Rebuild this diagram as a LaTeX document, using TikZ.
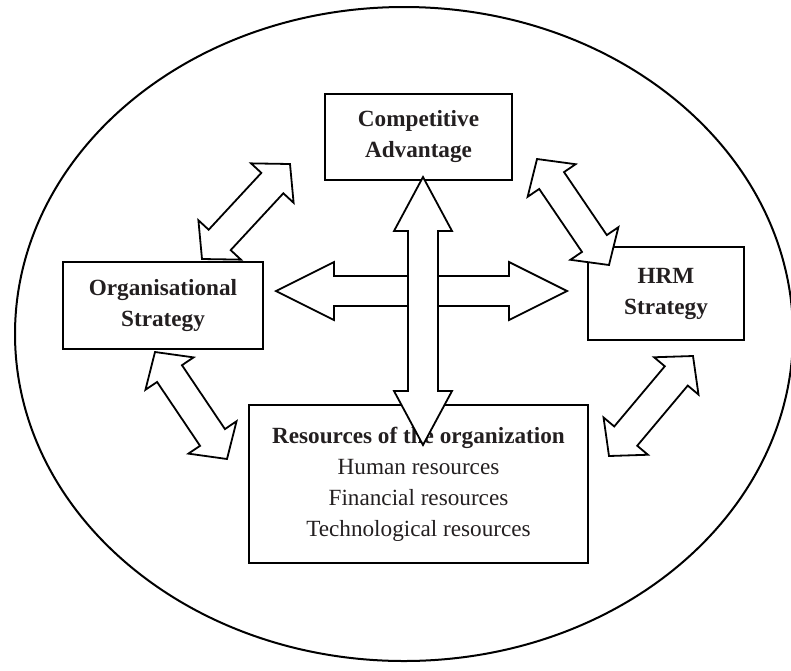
\documentclass[tikz,border=0pt]{standalone}
\usepackage{fontspec}
\setmainfont{Liberation Serif}
\usetikzlibrary{calc}
\definecolor{txtgray}{HTML}{231F20}
\tikzstyle{box} = [rectangle, draw=black, line width=1pt, inner sep=0pt, text centered, align=center, text=txtgray, font=\fontsize{11.6}{15.5}\selectfont]
\tikzstyle{blockarrow} = [draw=black, fill=white, line width=0.9pt, line join=miter]
% double block arrow between two points: start, end, head length
\newcommand{\fatarrow}[3]{%
  \draw[blockarrow] (#1)
    -- ($(#1)!#3!(#2)!14.5pt!90:(#2)$)
    -- ($(#1)!#3!(#2)!7.5pt!90:(#2)$)
    -- ($(#2)!#3!(#1)!7.5pt!-90:(#1)$)
    -- ($(#2)!#3!(#1)!14.5pt!-90:(#1)$)
    -- (#2)
    -- ($(#2)!#3!(#1)!14.5pt!90:(#1)$)
    -- ($(#2)!#3!(#1)!7.5pt!90:(#1)$)
    -- ($(#1)!#3!(#2)!7.5pt!-90:(#2)$)
    -- ($(#1)!#3!(#2)!14.5pt!-90:(#2)$)
    -- cycle;}
\begin{document}
\begin{tikzpicture}[x=0.5pt, y=-0.5pt]
\useasboundingbox (0,0) rectangle (791,670);
\clip (0,0) rectangle (791,670);

\draw[line width=1pt] (404,334) ellipse [x radius=389, y radius=327];

\node (adv) [box, minimum width=93.5pt, minimum height=43pt] at (418.5,137) {\textbf{Competitive}\\\textbf{Advantage}};
\node (org) [box, minimum width=100pt, minimum height=43.5pt] at (163,305.5) {\textbf{Organisational}\\\textbf{Strategy}};
\node (hrm) [box, minimum width=78pt, minimum height=46.5pt] at (666,293.5) {\textbf{HRM}\\\textbf{Strategy}};
\node (res) [box, minimum width=169.5pt, minimum height=79pt] at (418.5,484) {\textbf{Resources of the organization}\\Human resources\\Financial resources\\Technological resources};

% arrow ends
\coordinate (hleft) at (276,291);
\coordinate (hright) at (567,291);
\coordinate (vtop) at (423,177);
\coordinate (vbot) at (423,445);
\coordinate (tlA) at (202,259);
\coordinate (tlB) at (290,164);
\coordinate (trA) at (537,159);
\coordinate (trB) at (609,265);
\coordinate (blA) at (155,352);
\coordinate (blB) at (227,459);
\coordinate (brA) at (693,356);
\coordinate (brB) at (609,456);

\fatarrow{hleft}{hright}{29pt}
\fatarrow{vbot}{vtop}{27pt}
\fatarrow{tlA}{tlB}{13pt}
\fatarrow{trA}{trB}{13pt}
\fatarrow{blA}{blB}{13pt}
\fatarrow{brB}{brA}{13pt}

\end{tikzpicture}
\end{document}
